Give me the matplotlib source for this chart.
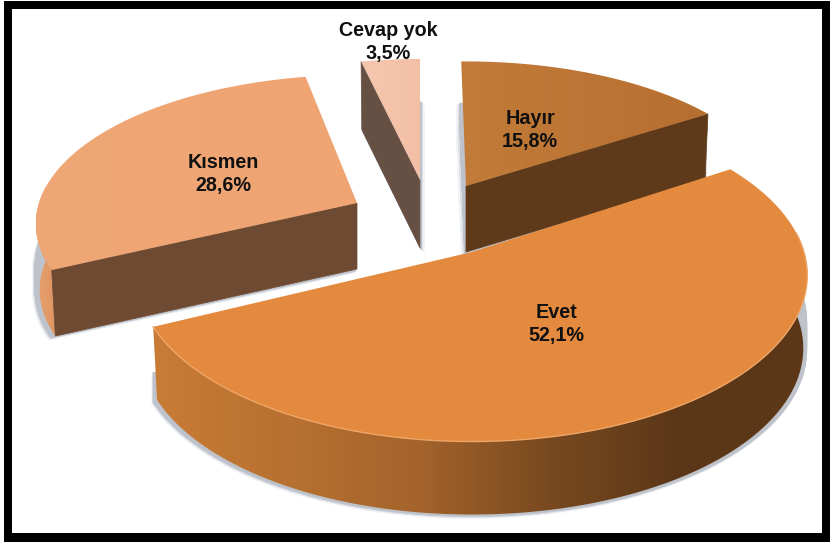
#!/usr/bin/env python3
"""Exploded 3D look pie chart, drawn by hand on a pixel-sized axes."""

import matplotlib
matplotlib.use("Agg")
import matplotlib.pyplot as plt
import numpy as np
from matplotlib.colors import LinearSegmentedColormap
from matplotlib.patches import Polygon, Rectangle

categories = ["Hayır", "Evet", "Kısmen", "Cevap yok"]
values = [15.8, 52.1, 28.6, 3.5]

# slice layout, same order as categories
apex_x = [466, 472, 357, 420]
apex_y = [186, 252, 203, 180]
radius_x = [311, 332, 318, 307]
radius_y = [142, 163, 146, 138]
depth = [66, 73, 66, 68]
# small view corrections in degrees, the 3D camera bends the edges a bit
start_trim = [-1.0, 0.0, 0.0, 0.0]
end_trim = [0.0, 0.0, 2.0, 0.0]
shadow_shift = [1.2, 0.4, 0.8, 1.0]
top_colors = [["#C27B38", "#B66F30"], ["#E48B40", "#E38A3E"], ["#F0A776", "#EFA472"], ["#F5C6AE", "#F3C0A6"]]
wall_colors = ["#5F3A1A", "#5B3717", "#6E4A32", "#665044"]
arc_colors = [
    ["#5F3A1A", "#5F3A1A"],
    ["#C97C36", "#B87130", "#A5642C", "#7A4A20", "#5B3717", "#5B3717"],
    ["#E9A06C", "#DE9662"],
    ["#665044", "#665044"],
]
label_x = [530, 556, 223, 388]
label_y = [130, 324, 174, 42]

PERSPECTIVE = 0.14
START_ANGLE = 0.0
DRAW_ORDER = [2, 3, 0, 1]


# === PROJECT ===
# Map pie angles (degrees clockwise from top) to screen pixels for one slice.
def project(i, angle, r=1.0):
    t = np.radians(angle)
    gx = r * np.sin(t)
    gy = r * np.cos(t)
    w = 1.0 / (1.0 + PERSPECTIVE * gy)
    return apex_x[i] + radius_x[i] * gx * w, apex_y[i] - radius_y[i] * gy * w


# === DROP ===
# Move top face points down to the bottom of the wall.
def drop(i, x, y):
    return x + (apex_x[i] - x) * 0.012, y + depth[i]


# === GRADIENT_FILL ===
# Fill a polygon with a horizontal colour gradient.
def gradient_fill(ax, xy, colors, zorder):
    xy = np.asarray(xy)
    cmap = LinearSegmentedColormap.from_list("g", colors)
    grad = np.linspace(0, 1, 256).reshape(1, -1)
    extent = (xy[:, 0].min(), xy[:, 0].max(), xy[:, 1].max(), xy[:, 1].min())
    im = ax.imshow(grad, extent=extent, cmap=cmap, aspect="auto", zorder=zorder, interpolation="bilinear")
    clip = Polygon(xy, closed=True, transform=ax.transData, fc="none", ec="none")
    ax.add_patch(clip)
    im.set_clip_path(clip)


fig = plt.figure(figsize=(8.30, 5.42), dpi=100)
ax = fig.add_axes([0, 0, 1, 1])
ax.axis("off")
plt.rcParams["font.family"] = ["Liberation Sans", "DejaVu Sans"]

# black frame
ax.add_patch(Rectangle((4, 1), 826, 541, fc="black", ec="none", zorder=0))
ax.add_patch(Rectangle((12, 9), 810, 524, fc="white", ec="none", zorder=0.1))

# slice angles from the values
scale = 360.0 / sum(values)
ends = START_ANGLE + np.cumsum(values) * scale
starts = ends - np.asarray(values) * scale
starts = starts + np.asarray(start_trim)
ends = ends + np.asarray(end_trim)

# soft shadows first, only from the lower half of the walls
shadow_layers = [(-4, 4, "#F1F3F6"), (-2.5, 3, "#DDE0E6"), (-1.2, 2, "#BEC2CA")]
for sx, sy, col in shadow_layers:
    for i in DRAW_ORDER:
        a = np.linspace(starts[i], ends[i], 90)
        px, py = project(i, a)
        px = np.r_[apex_x[i], px]
        py = np.r_[apex_y[i], py]
        dx = sx * shadow_shift[i] if i != 3 else -sx * shadow_shift[i]
        for d in np.linspace(depth[i] * 0.6, depth[i], 20):
            ax.add_patch(Polygon(np.c_[px + dx, py + d + sy], closed=True, fc=col, ec=col, lw=0.5, zorder=1))

z = 2
for i in DRAW_ORDER:
    a = np.linspace(starts[i], ends[i], 200)
    px, py = project(i, a)
    top = np.c_[np.r_[apex_x[i], px], np.r_[apex_y[i], py]]

    # curved outer wall, only the part facing the viewer
    front = np.cos(np.radians(a)) < 0.12
    if front.any():
        fx, fy = px[front], py[front]
        bx, by = drop(i, fx, fy)
        wall = np.r_[np.c_[fx, fy], np.c_[bx, by][::-1]]
        gradient_fill(ax, wall, arc_colors[i], z)
        z += 1

    # flat radial walls facing the viewer
    if i == 0:
        ex, ey = project(i, ends[i])
    elif i == 2 or i == 3:
        ex, ey = project(i, starts[i])
    else:
        ex, ey = None, None
    if ex is not None:
        bax, bay = drop(i, apex_x[i], apex_y[i])
        bex, bey = drop(i, ex, ey)
        ax.add_patch(Polygon([(apex_x[i], apex_y[i]), (ex, ey), (bex, bey), (bax, bay)], closed=True,
                             fc=wall_colors[i], ec=wall_colors[i], lw=0.5, zorder=z))
        z += 1

    gradient_fill(ax, top, top_colors[i], z)
    z += 1

    # light rim on the big slice
    if i == 1:
        ax.plot(px[front], py[front], color="#EFA566", lw=1.0, zorder=z)
        z += 1

for i, name in enumerate(categories):
    label = f"{name}\n{values[i]:.1f}%".replace(".", ",")
    ax.text(label_x[i], label_y[i], label, ha="center", va="center", fontsize=14.2, fontweight="bold",
            color="#111111", linespacing=1.25, zorder=z + 1)

ax.set_xlim(0, 830)
ax.set_ylim(542, 0)
fig.savefig("out.png", dpi=100)
